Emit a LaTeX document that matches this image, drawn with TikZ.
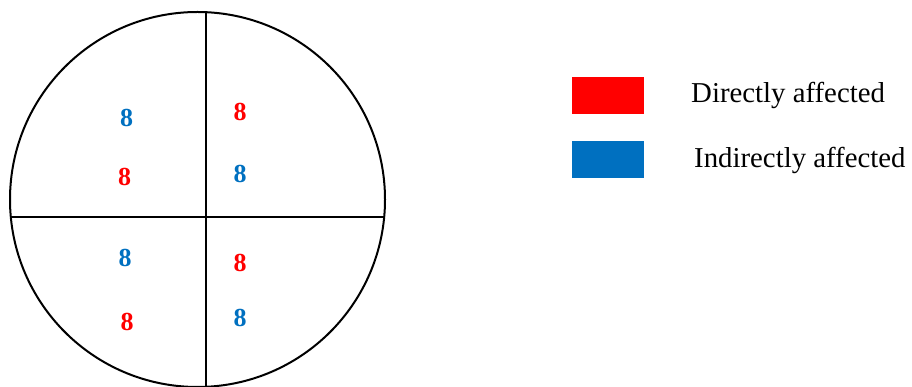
\documentclass[tikz,border=0pt]{standalone}
\usepackage{fontspec}
\setmainfont{Liberation Serif}
\definecolor{dred}{HTML}{FF0000}
\definecolor{iblue}{HTML}{0070C0}
\tikzset{
  digit/.style={inner sep=0pt, font=\fontsize{26}{28}\selectfont\bfseries},
  dig r/.style={digit, text=dred},
  dig b/.style={digit, text=iblue},
  legbox/.style={draw=none, inner sep=0pt, minimum width=72pt, minimum height=37.5pt},
  legtext/.style={anchor=base west, inner sep=0pt, font=\fontsize{28.8}{31}\selectfont},
  divline/.style={line width=1.7pt, black},
}
\begin{document}
\begin{tikzpicture}[x=1pt,y=1pt]
\useasboundingbox (0,0) rectangle (912,387);
% circle
\node[draw, circle, line width=2pt, minimum size=375pt, inner sep=0pt] (circ) at (197.5,187.5) {};
\coordinate (vt) at (206,374.8);
\coordinate (vb) at (206,0.2);
\coordinate (hl) at (10.8,170);
\coordinate (hr) at (384.2,170);
\draw[divline] (vt) -- (vb);
\draw[divline] (hl) -- (hr);
% digits
\node[dig b] (tl1) at (126.5,269) {8};
\node[dig r] (tl2) at (124.5,210) {8};
\node[dig r] (tr1) at (240,275) {8};
\node[dig b] (tr2) at (240,213) {8};
\node[dig b] (bl1) at (125,129) {8};
\node[dig r] (bl2) at (127,65) {8};
\node[dig r] (br1) at (240,124) {8};
\node[dig b] (br2) at (240,69) {8};
% legend
\node[legbox, fill=dred] (lr) at (608,291.5) {};
\node[legbox, fill=iblue] (lb) at (608,227.5) {};
\node[legtext] (tr) at (691,284) {Directly affected};
\node[legtext] (tb) at (694,219) {Indirectly affected};
\end{tikzpicture}
\end{document}
